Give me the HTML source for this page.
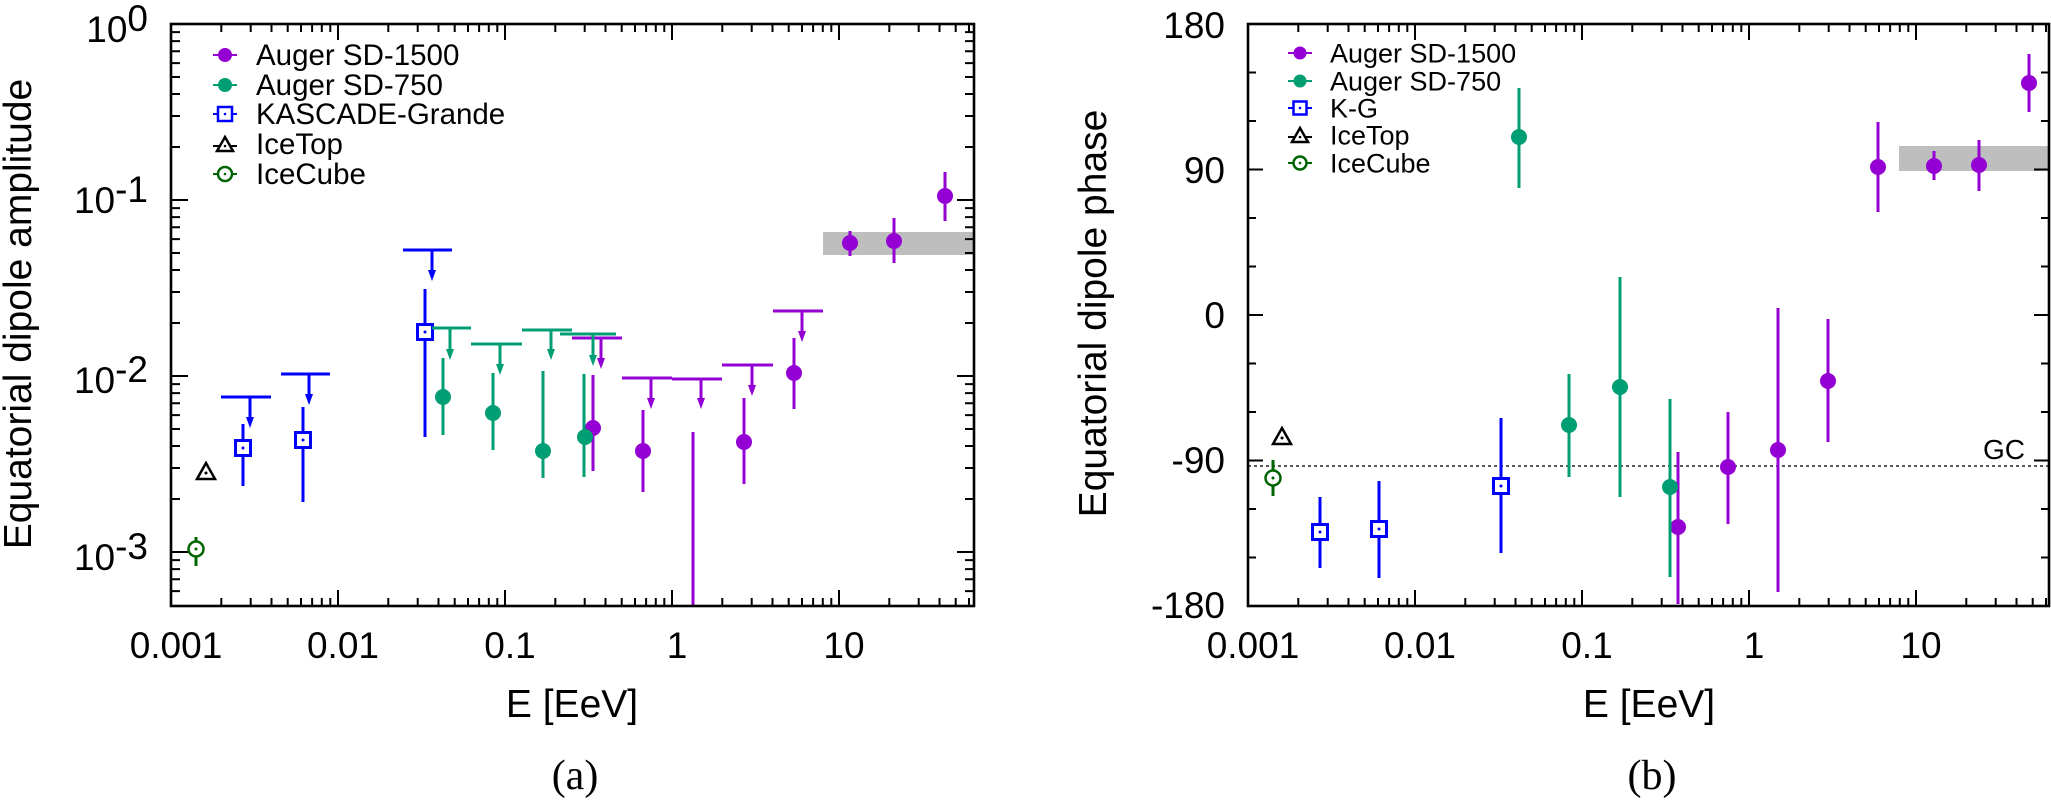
<!DOCTYPE html>
<html><head><meta charset="utf-8"><style>
html,body{margin:0;padding:0;background:#fff}
svg{display:block}
text{font-family:"Liberation Sans",Arial,sans-serif;fill:#000}
.tk{font-size:37px}
.lg{font-size:29.5px}
.lg2{font-size:27px}
.al{font-size:39px}
.cap{font-family:"Liberation Serif","Times New Roman",serif;font-size:42px}
</style></head><body>
<svg width="2051" height="801" viewBox="0 0 2051 801" xmlns="http://www.w3.org/2000/svg">
<rect x="0" y="0" width="2051" height="801" fill="#fff"/>

<!-- ================= LEFT PLOT ================= -->
<rect x="823" y="232" width="151" height="23" fill="#bebebe"/>

<g stroke="#000" stroke-width="2" fill="none">
<path d="M171,200h17M171,376h17M171,552h17M974,200h-17M974,376h-17M974,552h-17"/>
<path d="M171,32.1h9M171,41.1h9M171,51.3h9M171,63.1h9M171,77h9M171,94h9M171,116h9M171,147h9M171,208.1h9M171,217.1h9M171,227.3h9M171,239.1h9M171,253h9M171,270h9M171,292h9M171,323h9M171,384.1h9M171,393.1h9M171,403.3h9M171,415.1h9M171,429h9M171,446h9M171,468h9M171,499h9M171,560.1h9M171,569.1h9M171,579.3h9M171,591.1h9"/>
<path d="M974,32.1h-9M974,41.1h-9M974,51.3h-9M974,63.1h-9M974,77h-9M974,94h-9M974,116h-9M974,147h-9M974,208.1h-9M974,217.1h-9M974,227.3h-9M974,239.1h-9M974,253h-9M974,270h-9M974,292h-9M974,323h-9M974,384.1h-9M974,393.1h-9M974,403.3h-9M974,415.1h-9M974,429h-9M974,446h-9M974,468h-9M974,499h-9M974,560.1h-9M974,569.1h-9M974,579.3h-9M974,591.1h-9"/>
<path d="M338,606v-16M505,606v-16M672,606v-16M839,606v-16M338,24v16M505,24v16M672,24v16M839,24v16"/>
<path d="M221.3,606v-8M250.7,606v-8M271.5,606v-8M287.7,606v-8M301,606v-8M312.1,606v-8M321.8,606v-8M330.3,606v-8M388.3,606v-8M417.7,606v-8M438.5,606v-8M454.7,606v-8M468,606v-8M479.1,606v-8M488.8,606v-8M497.3,606v-8M555.3,606v-8M584.7,606v-8M605.5,606v-8M621.7,606v-8M635,606v-8M646.1,606v-8M655.8,606v-8M664.3,606v-8M722.3,606v-8M751.7,606v-8M772.5,606v-8M788.7,606v-8M802,606v-8M813.1,606v-8M822.8,606v-8M831.3,606v-8M889.3,606v-8M918.7,606v-8M939.5,606v-8M955.7,606v-8M969,606v-8"/>
<path d="M221.3,24v8M250.7,24v8M271.5,24v8M287.7,24v8M301,24v8M312.1,24v8M321.8,24v8M330.3,24v8M388.3,24v8M417.7,24v8M438.5,24v8M454.7,24v8M468,24v8M479.1,24v8M488.8,24v8M497.3,24v8M555.3,24v8M584.7,24v8M605.5,24v8M621.7,24v8M635,24v8M646.1,24v8M655.8,24v8M664.3,24v8M722.3,24v8M751.7,24v8M772.5,24v8M788.7,24v8M802,24v8M813.1,24v8M822.8,24v8M831.3,24v8M889.3,24v8M918.7,24v8M939.5,24v8M955.7,24v8M969,24v8"/>
</g>

<g class="tk" text-anchor="end">
<text x="148" y="42">10<tspan dy="-11">0</tspan></text>
<text x="148" y="213">10<tspan dy="-11">-1</tspan></text>
<text x="148" y="393">10<tspan dy="-11">-2</tspan></text>
<text x="148" y="570">10<tspan dy="-11">-3</tspan></text>
</g>
<g class="tk" text-anchor="middle">
<text x="176" y="658">0.001</text>
<text x="343" y="658">0.01</text>
<text x="510" y="658">0.1</text>
<text x="677" y="658">1</text>
<text x="844" y="658">10</text>
</g>
<text class="al" x="572" y="717" text-anchor="middle">E [EeV]</text>
<text class="al" transform="translate(31,314) rotate(-90)" text-anchor="middle">Equatorial dipole amplitude</text>
<text class="cap" x="575" y="789" text-anchor="middle">(a)</text>

<g stroke="#0000ff" stroke-width="3" fill="none">
<path d="M221,397H271M250,397V418M281,374H330M309,374V395M403,250H452M432,250V271"/>
<path d="M243,424V486M303,407V502M425,289V437"/>
</g>
<g fill="#0000ff">
<polygon points="246,417 254,417 250,428"/>
<polygon points="305,394 313,394 309,405"/>
<polygon points="428,270 436,270 432,281"/>
</g>
<g stroke="#0000ff" stroke-width="3" fill="#fff">
<rect x="235.5" y="440.5" width="15" height="15"/>
<rect x="295.5" y="432.5" width="15" height="15"/>
<rect x="417.5" y="324.5" width="15" height="15"/>
</g>
<g fill="#0000ff"><circle cx="243" cy="448" r="1.5"/><circle cx="303" cy="440" r="1.5"/><circle cx="425" cy="332" r="1.5"/></g>

<polygon points="206,463 197,479 215,479" fill="#fff" stroke="#000" stroke-width="2.5"/>
<circle cx="206" cy="473" r="1.5" fill="#000"/>
<path d="M196,537V566" stroke="#006400" stroke-width="3"/>
<circle cx="196" cy="549" r="7.5" fill="#fff" stroke="#006400" stroke-width="2.5"/>
<circle cx="196" cy="549" r="1.5" fill="#006400"/>

<g stroke="#9400d3" stroke-width="3" fill="none">
<path d="M572,338H622M601,338V358M622,378H672M651,378V398M672,379H722M701,379V398M722,365H773M752,365V385M773,311H823M802,311V331"/>
<path d="M593,375V471M643,410V492M693,432V606M744,398V484M794,338V409M850,231V256M894,218V263M945,172V221"/>
</g>
<g fill="#9400d3">
<polygon points="597,358 605,358 601,369"/>
<polygon points="647,398 655,398 651,409"/>
<polygon points="697,398 705,398 701,409"/>
<polygon points="748,385 756,385 752,396"/>
<polygon points="798,331 806,331 802,342"/>
<circle cx="593" cy="428" r="8"/><circle cx="643" cy="451" r="8"/><circle cx="744" cy="442" r="8"/><circle cx="794" cy="373" r="8"/><circle cx="850" cy="243" r="8"/><circle cx="894" cy="241" r="8"/><circle cx="945" cy="196" r="8"/>
</g>

<g stroke="#009e73" stroke-width="3" fill="none">
<path d="M432,328H471M450,328V349M471,344H522M500,344V364M522,330H572M551,330V349M560,334H616M593,334V355"/>
<path d="M443,358V435M493,373V450M543,371V478M584,374V477"/>
</g>
<g fill="#009e73">
<polygon points="446,349 454,349 450,360"/>
<polygon points="496,364 504,364 500,375"/>
<polygon points="547,349 555,349 551,360"/>
<polygon points="589,355 597,355 593,366"/>
<circle cx="443" cy="397" r="8"/><circle cx="493" cy="413" r="8"/><circle cx="543" cy="451" r="8"/><circle cx="585" cy="437" r="8"/>
</g>

<g stroke-width="2" fill="#fff">
<path d="M213,55H237" stroke="#9400d3"/><circle cx="225" cy="55" r="7" fill="#9400d3" stroke="none"/>
<path d="M213,85H237" stroke="#009e73"/><circle cx="225" cy="85" r="7" fill="#009e73" stroke="none"/>
<path d="M213,114H237" stroke="#0000ff"/><rect x="218" y="107" width="14" height="14" stroke="#0000ff" stroke-width="2.5"/><circle cx="225" cy="114" r="1.3" fill="#0000ff" stroke="none"/>
<path d="M213,146H237" stroke="#000"/><polygon points="225,137 217,151 233,151" stroke="#000" stroke-width="2.5"/><circle cx="225" cy="146" r="1.3" fill="#000" stroke="none"/>
<path d="M213,174H237" stroke="#006400"/><circle cx="225" cy="174" r="7" stroke="#006400" stroke-width="2.5"/><circle cx="225" cy="174" r="1.3" fill="#006400" stroke="none"/>
</g>
<g class="lg">
<text x="256" y="65">Auger SD-1500</text>
<text x="256" y="95">Auger SD-750</text>
<text x="256" y="124">KASCADE-Grande</text>
<text x="256" y="154">IceTop</text>
<text x="256" y="184">IceCube</text>
</g>

<rect x="171" y="24" width="803" height="582" fill="none" stroke="#000" stroke-width="2.6"/>

<!-- ================= RIGHT PLOT ================= -->
<rect x="1899" y="146" width="151" height="25" fill="#bebebe"/>
<path d="M1248,466H2049" stroke="#222" stroke-width="1.6" stroke-dasharray="3,3"/>
<text x="1983" y="459" style="font-size:28px">GC</text>

<g stroke="#000" stroke-width="2" fill="none">
<path d="M1248,169.5h15M1248,315h15M1248,460.5h15M2049,169.5h-15M2049,315h-15M2049,460.5h-15"/>
<path d="M1248,72.5h8M1248,121h8M1248,218h8M1248,266.5h8M1248,363.5h8M1248,412h8M1248,509h8M1248,557.5h8M2049,72.5h-8M2049,121h-8M2049,218h-8M2049,266.5h-8M2049,363.5h-8M2049,412h-8M2049,509h-8M2049,557.5h-8"/>
<path d="M1415,606v-16M1582,606v-16M1749,606v-16M1916,606v-16M1415,24v16M1582,24v16M1749,24v16M1916,24v16"/>
<path d="M1298.3,606v-8M1327.7,606v-8M1348.5,606v-8M1364.7,606v-8M1378,606v-8M1389.1,606v-8M1398.8,606v-8M1407.3,606v-8M1465.3,606v-8M1494.7,606v-8M1515.5,606v-8M1531.7,606v-8M1545,606v-8M1556.1,606v-8M1565.8,606v-8M1574.3,606v-8M1632.3,606v-8M1661.7,606v-8M1682.5,606v-8M1698.7,606v-8M1712,606v-8M1723.1,606v-8M1732.8,606v-8M1741.3,606v-8M1799.3,606v-8M1828.7,606v-8M1849.5,606v-8M1865.7,606v-8M1879,606v-8M1890.1,606v-8M1899.8,606v-8M1908.3,606v-8M1966.3,606v-8M1995.7,606v-8M2016.5,606v-8M2032.7,606v-8M2046,606v-8"/>
<path d="M1298.3,24v8M1327.7,24v8M1348.5,24v8M1364.7,24v8M1378,24v8M1389.1,24v8M1398.8,24v8M1407.3,24v8M1465.3,24v8M1494.7,24v8M1515.5,24v8M1531.7,24v8M1545,24v8M1556.1,24v8M1565.8,24v8M1574.3,24v8M1632.3,24v8M1661.7,24v8M1682.5,24v8M1698.7,24v8M1712,24v8M1723.1,24v8M1732.8,24v8M1741.3,24v8M1799.3,24v8M1828.7,24v8M1849.5,24v8M1865.7,24v8M1879,24v8M1890.1,24v8M1899.8,24v8M1908.3,24v8M1966.3,24v8M1995.7,24v8M2016.5,24v8M2032.7,24v8M2046,24v8"/>
</g>

<g class="tk" text-anchor="end">
<text x="1225" y="38">180</text>
<text x="1225" y="183">90</text>
<text x="1225" y="328">0</text>
<text x="1225" y="473">-90</text>
<text x="1225" y="618">-180</text>
</g>
<g class="tk" text-anchor="middle">
<text x="1253" y="658">0.001</text>
<text x="1420" y="658">0.01</text>
<text x="1587" y="658">0.1</text>
<text x="1754" y="658">1</text>
<text x="1921" y="658">10</text>
</g>
<text class="al" x="1649" y="717" text-anchor="middle">E [EeV]</text>
<text class="al" transform="translate(1106,313.5) rotate(-90)" text-anchor="middle">Equatorial dipole phase</text>
<text class="cap" x="1652" y="789" text-anchor="middle">(b)</text>

<g stroke="#0000ff" stroke-width="3" fill="none">
<path d="M1320,497V568M1379,481V578M1501,418V553"/>
</g>
<g stroke="#0000ff" stroke-width="3" fill="#fff">
<rect x="1312.5" y="524.5" width="15" height="15"/>
<rect x="1371.5" y="521.5" width="15" height="15"/>
<rect x="1493.5" y="478.5" width="15" height="15"/>
</g>
<g fill="#0000ff"><circle cx="1320" cy="532" r="1.5"/><circle cx="1379" cy="529" r="1.5"/><circle cx="1501" cy="486" r="1.5"/></g>

<polygon points="1282,428 1273,444 1291,444" fill="#fff" stroke="#000" stroke-width="2.5"/>
<circle cx="1282" cy="438" r="1.5" fill="#000"/>
<path d="M1273,460V496" stroke="#006400" stroke-width="3"/>
<circle cx="1273" cy="478" r="7.5" fill="#fff" stroke="#006400" stroke-width="2.5"/>
<circle cx="1273" cy="478" r="1.5" fill="#006400"/>

<g stroke="#9400d3" stroke-width="3" fill="none">
<path d="M1678,452V604M1728,412V524M1778,308V592M1828,319V442M1878,122V212M1934,151V180M1979,140V191M2029,54V112"/>
</g>
<g fill="#9400d3">
<circle cx="1678" cy="527" r="8"/><circle cx="1728" cy="467" r="8"/><circle cx="1778" cy="450" r="8"/><circle cx="1828" cy="381" r="8"/><circle cx="1878" cy="167" r="8"/><circle cx="1934" cy="166" r="8"/><circle cx="1979" cy="165" r="8"/><circle cx="2029" cy="83" r="8"/>
</g>
<g stroke="#009e73" stroke-width="3" fill="none">
<path d="M1519,88V188M1569,374V477M1620,277V497M1670,399V577"/>
</g>
<g fill="#009e73">
<circle cx="1519" cy="137" r="8"/><circle cx="1569" cy="425" r="8"/><circle cx="1620" cy="387" r="8"/><circle cx="1670" cy="487" r="8"/>
</g>

<g stroke-width="2" fill="#fff">
<path d="M1288,53H1312" stroke="#9400d3"/><circle cx="1300" cy="53" r="6.5" fill="#9400d3" stroke="none"/>
<path d="M1288,81H1312" stroke="#009e73"/><circle cx="1300" cy="81" r="6.5" fill="#009e73" stroke="none"/>
<path d="M1288,108H1312" stroke="#0000ff"/><rect x="1293.5" y="101.5" width="13" height="13" stroke="#0000ff" stroke-width="2.5"/><circle cx="1300" cy="108" r="1.3" fill="#0000ff" stroke="none"/>
<path d="M1288,137H1312" stroke="#000"/><polygon points="1300,128 1292,142 1308,142" stroke="#000" stroke-width="2.5"/><circle cx="1300" cy="137" r="1.3" fill="#000" stroke="none"/>
<path d="M1288,163H1312" stroke="#006400"/><circle cx="1300" cy="163" r="6.5" stroke="#006400" stroke-width="2.5"/><circle cx="1300" cy="163" r="1.3" fill="#006400" stroke="none"/>
</g>
<g class="lg2">
<text x="1330" y="62.5">Auger SD-1500</text>
<text x="1330" y="90.5">Auger SD-750</text>
<text x="1330" y="117.5">K-G</text>
<text x="1330" y="144.5">IceTop</text>
<text x="1330" y="172.5">IceCube</text>
</g>

<rect x="1248" y="24" width="801" height="582" fill="none" stroke="#000" stroke-width="2.6"/>
</svg>
</body></html>
